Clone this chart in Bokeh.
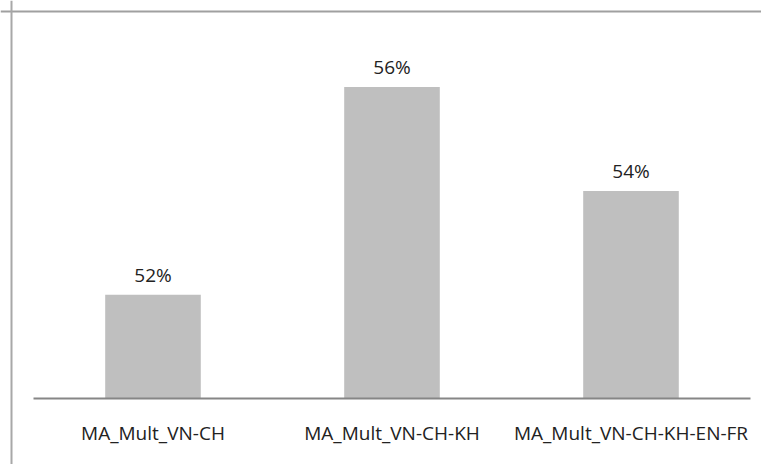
from bokeh.plotting import figure
from bokeh.models import Range1d, ColumnDataSource, Span
from bokeh.core.properties import value
from bokeh.embed import file_html
from bokeh.resources import INLINE

categories = ["MA_Mult_VN-CH", "MA_Mult_VN-CH-KH", "MA_Mult_VN-CH-KH-EN-FR"]
values = [52, 56, 54]
value_labels = ["52%", "56%", "54%"]
baseline = 50

W, H = 761, 464
# pixel layout (canvas coords)
x_left_px, cat_px = 33, 239
base_px, px_per_unit = 398, 51.9

n = len(categories)
x0 = -x_left_px / cat_px
x1 = x0 + W / cat_px
y1 = baseline + base_px / px_per_unit
y0 = y1 - H / px_per_unit

xs = [i + 0.5 for i in range(n)]
src = ColumnDataSource(dict(x=xs, top=values, cat=categories, lab=value_labels,
                            base=[baseline] * n))

p = figure(width=W, height=H, output_backend="svg", toolbar_location=None,
           x_range=Range1d(x0, x1), y_range=Range1d(y0, y1),
           min_border=0, min_border_left=0, min_border_right=0,
           min_border_top=0, min_border_bottom=0)
p.axis.visible = False
p.grid.visible = False
p.outline_line_color = None
p.background_fill_color = "white"
p.border_fill_color = "white"

# chart border (top and left edges visible)
bx = x0 + 11 / cat_px
by = y1 - 11 / px_per_unit
p.add_layout(Span(location=by, dimension="width", line_color="#a0a0a0", line_width=2))
p.add_layout(Span(location=bx, dimension="height", line_color="#a8a8a8", line_width=2))

p.vbar(x="x", top="top", bottom="base", width=0.4, source=src,
       fill_color="#bfbfbf", line_color=None)

# category axis line
p.line(x=[0, n], y=[baseline, baseline], line_color="#868686", line_width=2)

p.text(x="x", y="top", text="lab", source=src, text_align="center",
       text_baseline="middle", y_offset=-20, text_font=value("Open Sans"),
       text_font_size="19px", text_color="#222222")
p.text(x="x", y="base", text="cat", source=src, text_align="center",
       text_baseline="middle", y_offset=34, text_font=value("Open Sans"),
       text_font_size="19px", text_color="#222222")

open("out.html", "w").write(file_html(p, INLINE))
